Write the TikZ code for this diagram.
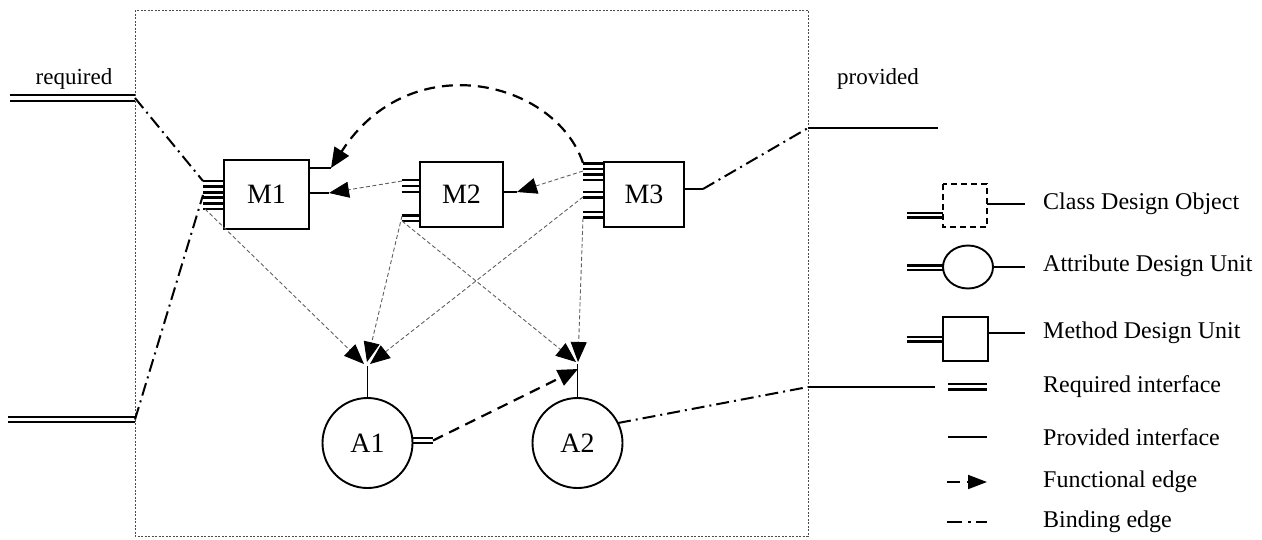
\documentclass[tikz,border=0pt]{standalone}
\usepackage{fontspec}
\setmainfont{Liberation Serif}
\usetikzlibrary{arrows.meta,shapes.geometric}
\begin{document}
\begin{tikzpicture}[x=1pt,y=-1pt,
  unitbox/.style={draw,line width=1.9,inner sep=0,font=\fontsize{28}{32}\selectfont},
  unitcirc/.style={draw,circle,line width=1.9,minimum size=90,inner sep=0,font=\fontsize{28}{32}\selectfont},
  port/.style={line width=2.8,black},
  reqline/.style={line width=2.5,black},
  provline/.style={line width=1.4,black},
  funthin/.style={line width=0.9,gray!75!black,dash pattern=on 4pt off 2.5pt,-{Triangle[length=20pt,width=16pt,color=black]}},
  funthick/.style={line width=2.2,black,dash pattern=on 11pt off 7pt,-{Triangle[length=20pt,width=17pt]}},
  binding/.style={line width=2,black,dash pattern=on 13pt off 5pt on 2pt off 5pt},
  lbl/.style={font=\fontsize{23}{26}\selectfont},
  legtext/.style={anchor=west,font=\fontsize{24}{28}\selectfont,inner sep=0}
]
\useasboundingbox (0,0) rectangle (1262,539);

% frame
\draw[line width=1,gray!60!black,dash pattern=on 2pt off 1.5pt] (135,10) rectangle (808,536);

% labels
\node[lbl] (req) at (74,79) {required};
\node[lbl] (prov) at (878,79) {provided};

% required / provided external interfaces
\coordinate (rq1) at (135,98);
\coordinate (rq2) at (135,419.5);
\coordinate (pv1) at (808,128);
\coordinate (pv2) at (808,387);
\draw[reqline] (10,95) -- (135,95);
\draw[reqline] (10,101) -- (135,101);
\draw[reqline] (8,417) -- (135,417);
\draw[reqline] (8,422) -- (135,422);
\draw[provline] (pv1) -- (938,128);
\draw[provline] (pv2) -- (935,387);

% method units
\node[unitbox,minimum width=85,minimum height=69] (M1) at (266.5,194.5) {M1};
\node[unitbox,minimum width=83,minimum height=65] (M2) at (461.5,194.5) {M2};
\node[unitbox,minimum width=80,minimum height=65] (M3) at (644,194.5) {M3};

% attribute units
\node[unitcirc] (A1) at (367.5,443) {A1};
\node[unitcirc] (A2) at (577.5,443) {A2};

% ports of M1
\foreach \y in {181,186.6,192.2,197.8,203.4,209} \draw[port] (203,\y) -- (224,\y);
% ports of M2
\foreach \y in {180,186,192,215.5,221} \draw[port] (402,\y) -- (420,\y);
% ports of M3
\foreach \y in {163.5,169,174.5,180,192,197.5,212,217.5} \draw[port] (583,\y) -- (604,\y);

% provided stubs
\coordinate (m1pa) at (331,168);
\coordinate (m1pb) at (329,193);
\coordinate (m2p) at (517,192);
\coordinate (m3p) at (703,189);
\coordinate (a1p) at (367.5,366);
\coordinate (a2p) at (577.5,364);
\coordinate (a2q) at (578,369);
\draw[provline] (309,168) -- (m1pa);
\draw[provline] (309,193) -- (m1pb);
\draw[provline] (503,192) -- (m2p);
\draw[provline] (684,189) -- (m3p);
\draw[line width=1.9] (A1.north) -- (a1p);
\draw[line width=1.9] (A2.north) -- (a2p);
% A1 required
\draw[reqline] (412,438) -- (433,438);
\draw[reqline] (412,443) -- (433,443);
\coordinate (a1r) at (433,440.5);

% port coordinates
\coordinate (m1r1) at (203,181);
\coordinate (m1r2) at (203,195);
\coordinate (m1r3) at (205,209);
\coordinate (m2r1) at (402,181);
\coordinate (m2r2) at (402,216);
\coordinate (m2r3) at (402,221);
\coordinate (m3r0) at (583,163);
\coordinate (m3r1) at (583,171);
\coordinate (m3r2) at (583,197);
\coordinate (m3r3) at (583,218);
\coordinate (a2b) at (618,423);

% binding edges
\draw[binding] (rq1) -- (m1r1);
\draw[binding] (rq2) -- (m1r2);
\draw[binding] (m3p) -- (pv1);
\draw[binding] (a2b) -- (pv2);

% functional edges (thin)
\draw[funthin] (m2r1) -- (m1pb);
\draw[funthin] (m3r1) -- (m2p);
\draw[funthin] (m1r3) -- (364,364);
\draw[funthin] (m2r2) -- (367,362);
\draw[funthin] (m3r2) -- (370,364);
\draw[funthin] (m2r3) -- (576,362);
\draw[funthin] (m3r3) -- (578,362);

% functional edges (thick)
\draw[funthick] (m3r0) .. controls (555,80) and (410,45) .. (m1pa);
\draw[funthick] (a1r) -- (a2q);

% legend
\draw[reqline] (907,213) -- (943,213);
\draw[reqline] (907,217.5) -- (943,217.5);
\draw[line width=1.9,dash pattern=on 6pt off 4pt] (943,184) rectangle (987,227);
\draw[provline] (987,204) -- (1025,204);
\node[legtext] (l1) at (1043,204) {Class Design Object};

\draw[reqline] (907,265.5) -- (943,265.5);
\draw[reqline] (907,270) -- (943,270);
\node[draw,ellipse,line width=1.9,minimum width=50,minimum height=43,inner sep=0] (le) at (968,267) {};
\draw[provline] (993,267) -- (1025,267);
\node[legtext] (l2) at (1043,266) {Attribute Design Unit};

\draw[reqline] (907,337) -- (943,337);
\draw[reqline] (907,341.5) -- (943,341.5);
\draw[line width=1.9] (943,317) rectangle (988,361);
\draw[provline] (988,333) -- (1025,333);
\node[legtext] (l3) at (1043,333) {Method Design Unit};

\draw[reqline] (948,384) -- (987,384);
\draw[reqline] (948,389.5) -- (987,389.5);
\node[legtext] (l4) at (1043,387) {Required interface};

\draw[line width=1.9] (948,437) -- (987,437);
\node[legtext] (l5) at (1043,437) {Provided interface};

\draw[line width=1.9] (947,482) -- (960,482);
\draw[line width=1.9,-{Triangle[length=19pt,width=14pt]}] (967,482) -- (987,482);
\node[legtext] (l6) at (1043,482) {Functional edge};

\draw[line width=1.9] (947,522) -- (962,522);
\draw[line width=1.9] (968,522) -- (971,522);
\draw[line width=1.9] (976,522) -- (987,522);
\node[legtext] (l7) at (1043,522) {Binding edge};
\end{tikzpicture}
\end{document}
